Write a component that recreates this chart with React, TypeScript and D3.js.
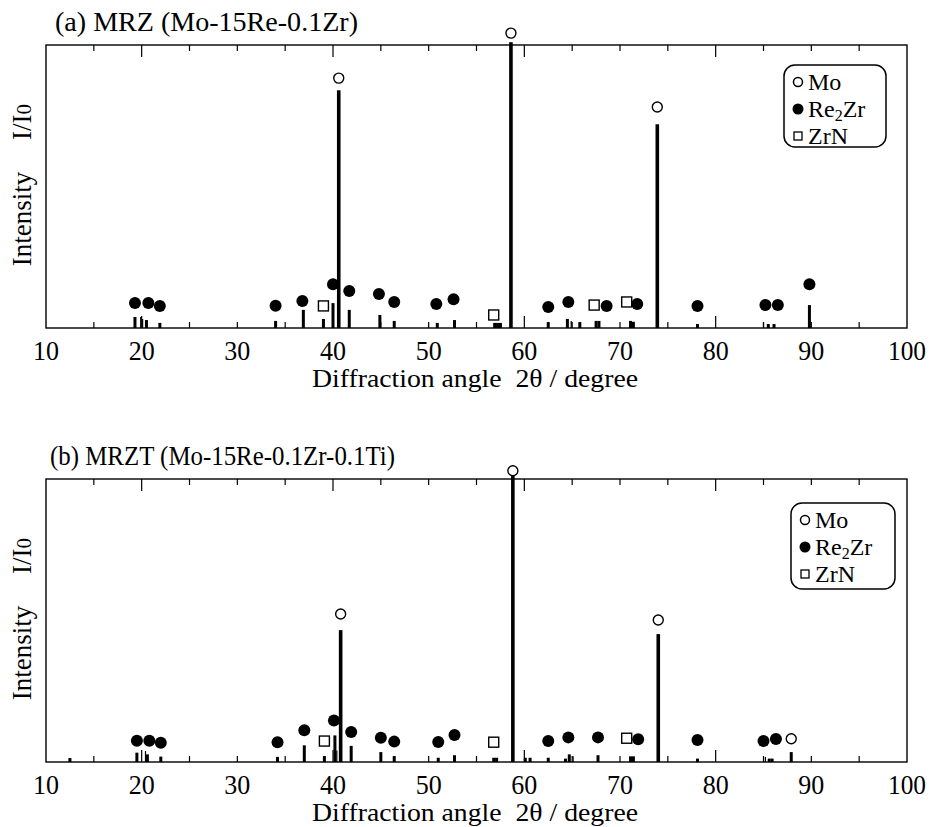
import React from "react";
import * as d3 from "d3";

const FONT = "'Liberation Serif', 'Times New Roman', serif";
const xTickLabels = [10, 20, 30, 40, 50, 60, 70, 80, 90, 100];

// (a) MRZ — angle (deg), intensity (% of frame height)
const mainA: [number, number][] = [[40.6, 84], [58.6, 101], [73.9, 72]];
const barsA: [number, number][] = [
  [19.3, 3.9], [20.5, 2.8], [21.9, 1.8], [34.0, 2.5], [36.9, 6.4], [39.0, 3.2],
  [40.0, 8.8], [41.7, 6.4], [44.9, 4.6], [46.4, 2.5], [50.9, 1.8], [52.7, 2.8],
  [56.9, 1.8], [57.2, 1.8], [57.5, 1.8], [62.5, 2.1], [64.5, 3.2], [65.8, 2.1],
  [67.5, 2.5], [67.8, 2.5], [71.1, 2.5], [71.4, 2.2], [78.1, 1.4], [85.5, 1.4],
  [86.1, 1.4], [89.8, 8.1],
];
const thinA: [number, number][] = [[19.9, 3.9], [20.1, 3.2], [64.9, 2.5], [85.0, 2.1]];
const moA: [number, number][] = [[40.6, 88.3], [58.6, 104.2], [73.9, 78.1]];
const re2zrA: [number, number][] = [
  [19.3, 8.8], [20.7, 8.8], [21.9, 7.8], [34.0, 7.9], [36.8, 9.5], [40.0, 15.5],
  [41.7, 13.1], [44.8, 12.0], [46.4, 9.2], [50.8, 8.5], [52.6, 10.2], [62.5, 7.4],
  [64.6, 9.2], [68.6, 7.8], [71.8, 8.5], [78.1, 7.8], [85.2, 8.1], [86.5, 8.1],
  [89.8, 15.5],
];
const zrnA: [number, number][] = [[39.0, 7.8], [56.8, 4.6], [67.3, 8.1], [70.7, 9.2]];

// (b) MRZT
const mainB: [number, number][] = [[40.8, 46.6], [58.8, 101.4], [74.0, 45.2]];
const barsB: [number, number][] = [
  [12.5, 1.4], [19.5, 3.3], [20.6, 2.7], [22.0, 1.9], [34.2, 1.8], [37.0, 5.9],
  [39.1, 2.1], [40.2, 9.4], [41.9, 5.7], [45.0, 3.5], [46.4, 2.1], [51.0, 1.5],
  [52.7, 2.4], [56.8, 1.5], [57.1, 1.5], [60.1, 1.5], [60.6, 1.5], [62.5, 1.5],
  [64.3, 1.2], [64.7, 2.7], [67.7, 2.4], [71.1, 2.0], [71.4, 2.0], [78.1, 1.2],
  [85.6, 1.2], [85.9, 1.2], [87.9, 3.5],
];
const thinB: [number, number][] = [[20.4, 3.9], [40.4, 4.1], [65.1, 2.0], [85.2, 1.8]];
const moB: [number, number][] = [[40.8, 52.3], [58.8, 102.9], [74.0, 50.2], [87.9, 8.2]];
const re2zrB: [number, number][] = [
  [19.5, 7.5], [20.8, 7.5], [22.0, 6.8], [34.2, 7.0], [37.0, 11.2], [40.1, 14.7],
  [41.9, 10.6], [45.0, 8.6], [46.4, 7.2], [51.0, 7.1], [52.7, 9.5], [62.5, 7.4],
  [64.6, 8.7], [67.7, 8.7], [71.9, 8.0], [78.1, 7.8], [85.0, 7.4], [86.3, 8.1],
];
const zrnB: [number, number][] = [[39.1, 7.4], [56.8, 7.0], [70.7, 8.4]];

const Legend = ({ x, y, w, h }) => {
  const rows = [y + 17, y + 44, y + 71];
  return (
    <g fontFamily={FONT} fontSize={24}>
      <rect x={x} y={y} width={w} height={h} rx={11} fill="white" stroke="black" strokeWidth={1.5} />
      <circle cx={x + 14} cy={rows[0]} r={4.5} fill="white" stroke="black" strokeWidth={1.5} />
      <text x={x + 24} y={rows[0] + 8}>Mo</text>
      <circle cx={x + 14} cy={rows[1]} r={5.5} fill="black" />
      <text x={x + 24} y={rows[1] + 8}>
        Re<tspan fontSize={16} dy={4}>2</tspan><tspan dy={-4}>Zr</tspan>
      </text>
      <rect x={x + 10} y={rows[2] - 4} width={8} height={8} fill="white" stroke="black" strokeWidth={1.3} />
      <text x={x + 24} y={rows[2] + 8}>ZrN</text>
    </g>
  );
};

const Panel = ({ top, title, titleX, titleLen, legend, main, bars, thin, mo, re2zr, zrn }) => {
  const bottom = top + 283;
  const x = d3.scaleLinear().domain([10, 100]).range([46, 907]);
  const y = d3.scaleLinear().domain([0, 100]).range([bottom, top]);
  const ticks = d3.range(15, 100, 5);
  return (
    <g>
      <text x={titleX} y={top - 14} fontFamily={FONT} fontSize={27}
        textLength={titleLen} lengthAdjust="spacingAndGlyphs">{title}</text>
      <rect x={x(10)} y={top} width={x(100) - x(10)} height={bottom - top} fill="none" stroke="black" strokeWidth={1.4} />
      {ticks.map(t => {
        const len = t % 20 === 0 ? 12 : 6;
        return (
          <g key={t} stroke="black" strokeWidth={1.2}>
            <line x1={x(t)} x2={x(t)} y1={bottom} y2={bottom - len} />
            <line x1={x(t)} x2={x(t)} y1={top} y2={top + len} />
          </g>
        );
      })}
      {main.map(([a, v], i) => (
        <rect key={"m" + i} x={x(a) - 1.8} y={y(v)} width={3.6} height={bottom - y(v)} fill="black" />
      ))}
      {bars.map(([a, v], i) => (
        <rect key={"b" + i} x={x(a) - 1.5} y={y(v)} width={3} height={bottom - y(v)} fill="black" />
      ))}
      {thin.map(([a, v], i) => (
        <line key={"t" + i} x1={x(a)} x2={x(a)} y1={bottom} y2={y(v)} stroke="black" strokeWidth={1.2} />
      ))}
      {mo.map(([a, v], i) => (
        <circle key={"o" + i} cx={x(a)} cy={y(v)} r={5} fill="white" stroke="black" strokeWidth={1.4} />
      ))}
      {re2zr.map(([a, v], i) => (
        <circle key={"r" + i} cx={x(a)} cy={y(v)} r={6} fill="black" />
      ))}
      {zrn.map(([a, v], i) => (
        <rect key={"z" + i} x={x(a) - 5} y={y(v) - 5} width={10} height={10} fill="white" stroke="black" strokeWidth={1.4} />
      ))}
      <g fontFamily={FONT} textAnchor="middle">
        {xTickLabels.map(t => (
          <text key={t} x={x(t)} y={bottom + 32} fontSize={28}
            textLength={t === 100 ? 38 : 26} lengthAdjust="spacingAndGlyphs">{t}</text>
        ))}
        <text x={475} y={bottom + 59} fontSize={26} textLength={326} lengthAdjust="spacingAndGlyphs"
          xmlSpace="preserve">Diffraction angle  2θ / degree</text>
      </g>
      <g fontFamily={FONT} fontSize={27} textAnchor="middle">
        <text transform={`translate(31 ${top + 174}) rotate(-90)`}>Intensity</text>
        <text transform={`translate(31 ${top + 77}) rotate(-90)`}>
          I/I<tspan fontSize={21}>0</tspan>
        </text>
      </g>
      <Legend {...legend} />
    </g>
  );
};

export default function App() {
  return (
    <svg width={929} height={827} style={{ position: "absolute", left: 0, top: 0, background: "white" }}>
      <Panel
        top={45}
        title="(a) MRZ (Mo-15Re-0.1Zr)"
        titleX={55}
        titleLen={303}
        legend={{ x: 784, y: 65, w: 102, h: 82 }}
        main={mainA} bars={barsA} thin={thinA} mo={moA} re2zr={re2zrA} zrn={zrnA}
      />
      <Panel
        top={479}
        title="(b) MRZT (Mo-15Re-0.1Zr-0.1Ti)"
        titleX={50}
        titleLen={345}
        legend={{ x: 791, y: 503, w: 104, h: 86 }}
        main={mainB} bars={barsB} thin={thinB} mo={moB} re2zr={re2zrB} zrn={zrnB}
      />
    </svg>
  );
}
